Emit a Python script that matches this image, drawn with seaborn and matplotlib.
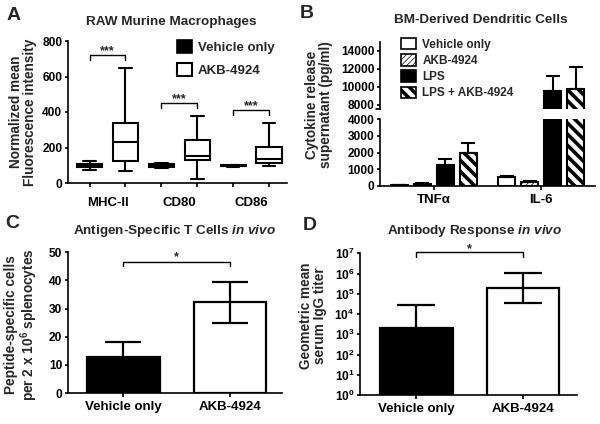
import numpy as np
import pandas as pd
import matplotlib
matplotlib.use("Agg")
import matplotlib.pyplot as plt
import seaborn as sns
from matplotlib.patches import Patch

# ---------------- Data ----------------
# Panel A: five-number summaries (min, q1, median, q3, max)
a_markers = ["MHC-II", "CD80", "CD86"]
a_treatments = ["Vehicle only", "AKB-4924"]
a_vehicle_mhc = [75, 88, 97, 105, 125]
a_akb_mhc = [65, 125, 232, 340, 650]
a_vehicle_cd80 = [86, 90, 97, 106, 112]
a_akb_cd80 = [20, 132, 150, 240, 380]
a_vehicle_cd86 = [92, 95, 97, 100, 102]
a_akb_cd86 = [95, 110, 135, 205, 338]
a_signif = ["***", "***", "***"]
a_bracket_y = [720, 450, 410]

# Panel B
b_cytokines = ["TNFα", "IL-6"]
b_treatments = ["Vehicle only", "AKB-4924", "LPS", "LPS + AKB-4924"]
b_tnf_mean = [40, 130, 1250, 1960]
b_tnf_err = [20, 70, 350, 640]
b_il6_mean = [530, 250, 9530, 9690]
b_il6_err = [90, 50, 1650, 2470]

# Panel C
c_groups = ["Vehicle only", "AKB-4924"]
c_mean = [12.8, 32.2]
c_err = [5.2, 7.2]
c_bracket_y = 46.6

# Panel D
d_groups = ["Vehicle only", "AKB-4924"]
d_mean = [2.0e3, 1.9e5]
d_err_hi = [2.8e4, 1.05e6]
d_err_lo = [1.4e2, 3.5e4]
d_bracket_y = 1.1e7
d_yticks = [0, 1, 2, 3, 4, 5, 6, 7]

# ---------------- Style ----------------
sns.set_theme(style="ticks")
plt.rcParams.update({
    "font.family": ["Liberation Sans", "DejaVu Sans"],
    "font.weight": "bold",
    "axes.labelweight": "bold",
    "axes.titleweight": "bold",
    "axes.linewidth": 1.2,
    "axes.edgecolor": "black",
    "xtick.color": "black",
    "ytick.color": "black",
    "xtick.major.size": 3,
    "ytick.major.size": 2.5,
    "xtick.major.width": 1.2,
    "ytick.major.width": 1.2,
    "xtick.major.pad": 3,
    "ytick.major.pad": 1.5,
    "xtick.labelsize": 9.5,
    "ytick.labelsize": 8.6,
    "mathtext.fontset": "custom",
    "mathtext.rm": "Liberation Sans:bold",
    "mathtext.bf": "Liberation Sans:bold",
    "mathtext.it": "Liberation Sans:italic:bold",
    "mathtext.default": "bf",
})

W, H = 600, 424
fig = plt.figure(figsize=(6, 4.24), dpi=100)


def rect(l, t, r, b):
    return [l / W, 1 - b / H, (r - l) / W, (b - t) / H]


def ftext(x, y, s, **kw):
    fig.text(x / W, 1 - y / H, s, **kw)


def set_hlw(p, lw):
    if hasattr(p, "set_hatch_linewidth"):
        p.set_hatch_linewidth(lw)


# ---------------- Panel A ----------------
axA = fig.add_axes(rect(68, 41, 287, 183))
a_data = {
    ("MHC-II", "Vehicle only"): a_vehicle_mhc, ("MHC-II", "AKB-4924"): a_akb_mhc,
    ("CD80", "Vehicle only"): a_vehicle_cd80, ("CD80", "AKB-4924"): a_akb_cd80,
    ("CD86", "Vehicle only"): a_vehicle_cd86, ("CD86", "AKB-4924"): a_akb_cd86,
}
rows, slots = [], []
for m in a_markers:
    for t in a_treatments:
        s = f"{m}|{t}"
        slots.append(s)
        for v in a_data[(m, t)]:
            rows.append((s, m, t, v))
dfA = pd.DataFrame(rows, columns=["slot", "marker", "treatment", "value"])
sns.boxplot(data=dfA, x="slot", y="value", hue="treatment", order=slots,
            hue_order=a_treatments, dodge=False,
            palette={"Vehicle only": "black", "AKB-4924": "white"},
            linecolor="black", linewidth=1.5, width=0.7, whis=(0, 100),
            fliersize=0, legend=False, ax=axA)
axA.set_xlim(-0.6, 5.5)
axA.set_ylim(0, 800)
axA.set_yticks([0, 200, 400, 600, 800])
axA.set_xticks(range(6))
axA.set_xticklabels([""] * 6)
axA.set_xticks([0.5, 2.5, 4.5], minor=True)
axA.set_xticklabels(a_markers, minor=True)
axA.tick_params(axis="x", which="minor", length=0, pad=10)
axA.set_xlabel("")
axA.set_ylabel("")
sns.despine(ax=axA)
for i, (sig, yb) in enumerate(zip(a_signif, a_bracket_y)):
    x0, x1 = 2 * i, 2 * i + 1
    axA.plot([x0, x0, x1, x1], [yb - 28, yb, yb, yb - 28], color="black", lw=1, clip_on=False)
    axA.annotate(sig, (0.5 * (x0 + x1), yb), xytext=(0, 1), textcoords="offset points",
                 ha="center", va="baseline", fontsize=9, annotation_clip=False)
axA.legend(handles=[Patch(facecolor="black", edgecolor="black", lw=1.2),
                    Patch(facecolor="white", edgecolor="black", lw=1.5)],
           labels=a_treatments, loc="upper left",
           bbox_to_anchor=(177 / W, 1 - 40 / H), bbox_transform=fig.transFigure,
           frameon=False, fontsize=9.5, handlelength=1.15, handleheight=1.15,
           handletextpad=0.45, labelspacing=0.65, borderpad=0, borderaxespad=0)
ftext(171, 22, "RAW Murine Macrophages", ha="center", va="center", fontsize=9.7)
ftext(23, 112, "Normalized mean\nFluorescence intensity", rotation=90,
      ha="center", va="center", fontsize=9.8, linespacing=1.0)
ftext(14, 15, "A", ha="center", va="center", fontsize=14)

# ---------------- Panel B ----------------
axBu = fig.add_axes(rect(380, 42, 595, 109))
axBl = fig.add_axes(rect(380, 119.3, 595, 186))
dfB = pd.DataFrame({
    "cytokine": [c for c in b_cytokines for _ in b_treatments],
    "treatment": b_treatments * 2,
    "value": b_tnf_mean + b_il6_mean,
    "err": b_tnf_err + b_il6_err,
})
b_palette = {"Vehicle only": "white", "AKB-4924": "white", "LPS": "black", "LPS + AKB-4924": "white"}
b_hatch = [None, "//////", None, "\\\\\\"]
b_hlw = [0.5, 0.5, 0.5, 2.6]
for ax in (axBu, axBl):
    sns.barplot(data=dfB, x="cytokine", y="value", hue="treatment", order=b_cytokines,
                hue_order=b_treatments, palette=b_palette, width=0.86, gap=0.26,
                errorbar=None, edgecolor="black", linewidth=1.5, legend=False, ax=ax)
    for cont, htch, hl, tr in zip(ax.containers, b_hatch, b_hlw, b_treatments):
        sub = dfB[dfB["treatment"] == tr].set_index("cytokine").loc[b_cytokines]
        for bar, m, e in zip(cont, sub["value"], sub["err"]):
            if htch:
                bar.set_hatch(htch)
                set_hlw(bar, hl)
            ax.errorbar(bar.get_x() + bar.get_width() / 2, m, yerr=[[0], [e]], fmt="none",
                        ecolor="black", elinewidth=1.5, capsize=5, capthick=1.5)
    ax.set_xlim(-0.5, 1.5)
    ax.set_xlabel("")
    ax.set_ylabel("")
axBl.set_ylim(0, 4000)
axBl.set_yticks([0, 1000, 2000, 3000, 4000])
axBu.set_ylim(7500, 15000)
axBu.set_yticks([8000, 10000, 12000, 14000])
axBu.set_xticks([])
sns.despine(ax=axBl)
sns.despine(ax=axBu, bottom=True)
axBu.plot([0, -0.018], [0, 0], transform=axBu.transAxes, color="black", lw=1.2, clip_on=False)
legB = axBu.legend(handles=[Patch(facecolor=b_palette[t], edgecolor="black", lw=1.2,
                                  hatch=h) for t, h in zip(b_treatments, b_hatch)],
                   labels=b_treatments, loc="upper left",
                   bbox_to_anchor=(401 / W, 1 - 38 / H), bbox_transform=fig.transFigure,
                   frameon=False, fontsize=8.5, handlelength=1.3, handleheight=1.1,
                   handletextpad=0.5, labelspacing=0.3, borderpad=0, borderaxespad=0)
for p, hl in zip(legB.get_patches(), b_hlw):
    set_hlw(p, hl)
ftext(481, 20, "BM-Derived Dendritic Cells", ha="center", va="center", fontsize=9.7)
ftext(319, 105, "Cytokine release\nsupernatant (pg/ml)", rotation=90,
      ha="center", va="center", fontsize=9.8, linespacing=1.0)
ftext(307, 14, "B", ha="center", va="center", fontsize=14)

# ---------------- Panel C ----------------
axC = fig.add_axes(rect(68, 252.3, 282, 393))
dfC = pd.DataFrame({"group": c_groups, "value": c_mean, "err": c_err})
sns.barplot(data=dfC, x="group", y="value", hue="group", order=c_groups,
            palette={"Vehicle only": "black", "AKB-4924": "white"}, width=0.68,
            errorbar=None, edgecolor="black", linewidth=1.6, legend=False, ax=axC)
for cont, m, e in zip(axC.containers, c_mean, c_err):
    for bar in cont:
        axC.errorbar(bar.get_x() + bar.get_width() / 2, m, yerr=e, fmt="none",
                     ecolor="black", elinewidth=1.6, capsize=13, capthick=1.6)
axC.set_xlim(-0.52, 1.49)
axC.set_ylim(0, 50)
axC.set_yticks([0, 10, 20, 30, 40, 50])
axC.set_xlabel("")
axC.set_ylabel("")
sns.despine(ax=axC)
axC.plot([0, 0, 1, 1], [c_bracket_y - 1.6, c_bracket_y, c_bracket_y, c_bracket_y - 1.6],
         color="black", lw=1, clip_on=False)
axC.annotate("*", (0.5, c_bracket_y), xytext=(0, 1), textcoords="offset points",
             ha="center", va="baseline", fontsize=9, annotation_clip=False)
ftext(174, 231, r"Antigen-Specific T Cells $\mathit{in\ vivo}$", ha="center", va="center",
      fontsize=9.7)
ftext(22, 325, "Peptide-specific cells\nper 2 x 10$^6$ splenocytes", rotation=90,
      ha="center", va="center", fontsize=9.8, linespacing=1.0)
ftext(12, 224, "C", ha="center", va="center", fontsize=14)

# ---------------- Panel D ----------------
axD = fig.add_axes(rect(360, 253.3, 577, 395))
dfD = pd.DataFrame({"group": d_groups, "value": d_mean})
sns.barplot(data=dfD, x="group", y="value", hue="group", order=d_groups,
            palette={"Vehicle only": "black", "AKB-4924": "white"}, width=0.68,
            errorbar=None, edgecolor="black", linewidth=1.6, legend=False, ax=axD)
axD.set_yscale("log")
for cont, m, lo, hi in zip(axD.containers, d_mean, d_err_lo, d_err_hi):
    for bar in cont:
        axD.errorbar(bar.get_x() + bar.get_width() / 2, m, yerr=[[m - lo], [hi - m]],
                     fmt="none", ecolor="black", elinewidth=1.6, capsize=14, capthick=1.6)
axD.set_xlim(-0.53, 1.51)
axD.set_ylim(1, 1e7)
axD.set_yticks([10.0 ** k for k in d_yticks])
axD.set_yticklabels([r"10$^{%d}$" % k for k in d_yticks])
axD.yaxis.set_minor_locator(matplotlib.ticker.NullLocator())
axD.set_xlabel("")
axD.set_ylabel("")
sns.despine(ax=axD)
axD.plot([0, 0, 1, 1], [d_bracket_y / 1.7, d_bracket_y, d_bracket_y, d_bracket_y / 1.7],
         color="black", lw=1, clip_on=False)
axD.annotate("*", (0.5, d_bracket_y), xytext=(0, 0.5), textcoords="offset points",
             ha="center", va="baseline", fontsize=9, annotation_clip=False)
ftext(475, 231, r"Antibody Response $\mathit{in\ vivo}$", ha="center", va="center",
      fontsize=9.7)
ftext(313, 316, "Geometric mean\nserum IgG titer", rotation=90,
      ha="center", va="center", fontsize=9.8, linespacing=1.0)
ftext(310, 225, "D", ha="center", va="center", fontsize=14)

fig.savefig("out.png", dpi=100)
